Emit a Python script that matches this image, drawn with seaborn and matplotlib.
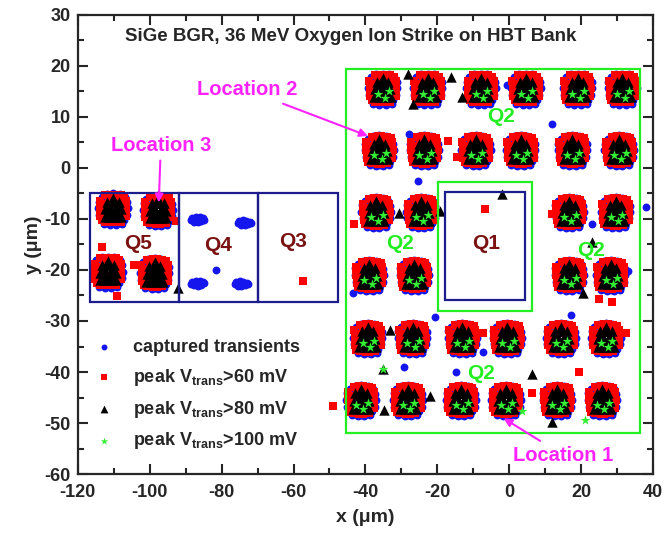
import numpy as np
import pandas as pd
import matplotlib
matplotlib.use("Agg")
import matplotlib.pyplot as plt
from matplotlib.patches import Rectangle
import seaborn as sns

sns.set_style("ticks")
plt.rcParams["font.family"] = ["Liberation Sans", "DejaVu Sans"]
plt.rcParams["font.weight"] = "bold"
plt.rcParams["axes.unicode_minus"] = False
plt.rcParams["mathtext.fontset"] = "custom"
plt.rcParams["mathtext.rm"] = "Liberation Sans:bold"
plt.rcParams["mathtext.bf"] = "Liberation Sans:bold"

# cluster centres (um)
hbt_x = [-35.2, -22.7, -7.9, 4.6, 19.0, 31.5,
         -36.1, -23.6, -9.3, 3.2, 17.6, 30.6,
         -37.0, -24.5, 16.7, 29.6,
         -38.9, -26.4, 16.7, 28.2,
         -39.4, -26.9, -13.0, -0.5, 14.4, 26.9,
         -41.2, -28.2, -13.4, -0.9, 13.4, 25.9]
hbt_y = [15.6] * 6 + [3.5] * 6 + [-8.6] * 4 + [-21.0] * 4 + [-33.3] * 6 + [-45.5] * 6
q5_x = [-110.2, -97.7, -111.6, -98.6]
q5_y = [-7.9, -8.2, -20.3, -20.6]
q4_x = [-86.6, -73.6, -86.6, -74.5]
q4_y = [-10.1, -10.7, -22.6, -22.7]

# point offsets inside one cluster, by series
blue_dx = [-4.1, -3.9, -3.2, -1.8, 0.0, 1.8, 3.2, 3.9, 4.1, 3.8, 3.0, 1.6, 0.0, -1.6, -3.0, -3.8,
           -2.6, 2.6, -0.9, 0.9]
blue_dy = [0.0, 1.3, 2.2, 2.8, 2.9, 2.8, 2.2, 1.2, 0.0, -1.3, -2.2, -2.8, -2.9, -2.8, -2.2, -1.3,
           -3.0, -3.0, -3.2, -3.2]
red_dx = [-3.7, -3.6, -3.5, -2.1, -2.0, -2.0, -2.1, -0.5, -0.5, 0.5, 0.5,
          2.1, 2.0, 2.0, 2.1, 3.6, 3.6, 3.7, -3.1, 3.1, 0.0, 0.0,
          -1.2, 1.2, -1.2, 1.2, -2.9, 2.9, -2.9, 2.9]
red_dy = [1.5, 0.0, -1.5, 2.6, 0.8, -0.8, -2.6, 2.7, -2.7, 2.7, -2.7,
          2.6, 0.8, -0.8, -2.6, 1.5, -1.5, 0.0, -2.3, 2.3, 1.0, -1.0,
          1.8, 1.8, -1.8, -1.8, 0.7, 0.7, -0.7, -0.7]
tri_dx = [-2.3, -1.1, 0.0, 1.1, 2.3, -2.1, -0.7, 0.7, 2.1, -1.6, -0.5, 0.5, 1.6, 0.0,
          -1.7, -0.6, 0.6, 1.7, -1.0, 1.0]
tri_dy = [-1.7, -1.7, -1.7, -1.7, -1.7, -0.2, -0.2, -0.2, -0.2, 1.3, 1.3, 1.3, 1.3, 2.1,
          -1.0, -1.0, -1.0, -1.0, 0.6, 0.6]
star_dx = [-1.4, 0.6, 1.8]
star_dy = [-1.0, -1.8, -0.6]
q4_dx = [-1.5, -0.5, 0.5, 1.5, -1.0, 0.0, 1.0, -1.8, 1.8]
q4_dy = [0.3, 0.5, 0.4, 0.2, -0.4, -0.5, -0.3, -0.1, 0.0]

# stray hits
blue_x = [-28.0, 11.9, -25.5, 38.0, 23.1, -0.5, -43.5, -20.6, -7.4, -29.2, -14.8, 17.3, 33.1, -81.5]
blue_y = [6.7, 8.6, -2.5, -7.6, -11.0, 16.3, -24.6, -29.3, -36.0, -39.0, -40.0, -28.8, -20.1, -20.0]
red_x = [-17.1, -14.6, -6.7, -43.1, 12.0, -7.2, 19.4, 6.3, 32.4, 25.0, 28.5,
         -113.4, -104.4, -109.0, -92.6, -57.4, -49.1]
red_y = [5.2, 2.1, -8.1, -11.0, -9.0, -32.3, -40.0, -44.1, -32.3, -25.7, -26.2,
         -15.4, -19.0, -25.1, -10.3, -22.2, -46.6]
tri_x = [-28.2, -16.2, -26.7, -13.0, -1.9, -30.6, -19.2, 23.1, -33.1, 6.3, 20.4,
         12.0, -22.0, -34.7, -92.1, -35.2]
tri_y = [18.4, 17.9, 12.5, 13.9, -5.1, -8.9, -8.4, -14.6, -31.8, -40.4, -24.6,
         -49.9, -44.8, -47.5, -23.6, -39.4]
star_x = [-35.2, 21.0, 3.5]
star_y = [-39.4, -49.5, -47.6]

labels = ["captured transients",
          r"peak V$_{\mathrm{trans}}$>60 mV",
          r"peak V$_{\mathrm{trans}}$>80 mV",
          r"peak V$_{\mathrm{trans}}$>100 mV"]


def spread(cx, cy, dx, dy, ex, ey):
    xs = [a + b for a in cx for b in dx] + ex
    ys = [a + b for a in cy for b in dy] + ey
    return pd.DataFrame({"x": xs, "y": ys})


blue = spread(hbt_x + q5_x, hbt_y + q5_y, blue_dx, blue_dy, blue_x, blue_y)
blue = pd.concat([blue, spread(q4_x, q4_y, q4_dx, q4_dy, [], [])])
red = spread(hbt_x + q5_x, hbt_y + q5_y, red_dx, red_dy, red_x, red_y)
tri = spread(hbt_x + q5_x, hbt_y + q5_y, tri_dx, tri_dy, tri_x, tri_y)
star = spread(hbt_x, hbt_y, star_dx, star_dy, star_x, star_y)

fig = plt.figure(figsize=(6.65, 5.35), dpi=100)
ax = fig.add_axes([0.117, 0.114, 0.865, 0.858])

sns.scatterplot(data=blue, x="x", y="y", ax=ax, color="#1515ee", marker="o", s=32, linewidth=0, label=labels[0])
sns.scatterplot(data=red, x="x", y="y", ax=ax, color="#ff0000", marker="s", s=34, linewidth=0, label=labels[1])
sns.scatterplot(data=tri, x="x", y="y", ax=ax, color="black", marker="^", s=56, linewidth=0, label=labels[2])
sns.scatterplot(data=star, x="x", y="y", ax=ax, color="#33ee33", marker="*", s=55, linewidth=0, label=labels[3])

green = "#22ee22"
navy = "#1c1c8c"
ax.add_patch(Rectangle((-45.3, -52.0), 81.7, 71.4, fill=False, ec=green, lw=1.6))
ax.add_patch(Rectangle((-19.7, -28.0), 26.1, 25.3, fill=False, ec=green, lw=1.6))
ax.add_patch(Rectangle((-17.8, -25.9), 22.2, 21.2, fill=False, ec=navy, lw=1.6))
for x0, x1 in [(-116.7, -91.9), (-91.9, -70.0), (-70.0, -47.5)]:
    ax.add_patch(Rectangle((x0, -26.3), x1 - x0, 21.4, fill=False, ec=navy, lw=1.6))

dred = "#7a1212"
for t, x, y in [("Q5", -103.2, -14.8), ("Q4", -81.0, -15.1), ("Q3", -60.0, -14.4), ("Q1", -6.3, -14.8)]:
    ax.text(x, y, t, color=dred, fontsize=15, ha="center", va="center")
for x, y in [(-2.3, 10.1), (-30.4, -14.8), (22.9, -16.1), (-7.7, -40.3)]:
    ax.text(x, y, "Q2", color="#22ee22", fontsize=15, ha="center", va="center")

mag = "#ff22ff"
arrow = dict(arrowstyle="-|>", color=mag, lw=1.5, mutation_scale=12)
ax.annotate("Location 2", xy=(-38.6, 6.1), xytext=(-73.0, 15.3), color=mag, fontsize=14.5,
            ha="center", va="center", arrowprops=arrow)
ax.annotate("Location 3", xy=(-97.5, -7.3), xytext=(-96.9, 4.5), color=mag, fontsize=14.5,
            ha="center", va="center", arrowprops=arrow)
ax.annotate("Location 1", xy=(-2.2, -48.8), xytext=(15.0, -56.3), color=mag, fontsize=14.5,
            ha="center", va="center", arrowprops=arrow)

ax.text(-44.2, 25.7, "SiGe BGR, 36 MeV Oxygen Ion Strike on HBT Bank", fontsize=13.5,
        ha="center", va="center")

ax.set_xlim(-120, 40)
ax.set_ylim(-60, 30)
ax.set_xticks(np.arange(-120, 41, 20))
ax.set_xticks(np.arange(-110, 40, 20), minor=True)
ax.set_yticks(np.arange(-60, 31, 10))
ax.set_yticks(np.arange(-55, 30, 10), minor=True)
ax.tick_params(which="both", direction="in", top=True, right=True, width=1.5, labelsize=13)
ax.tick_params(which="major", length=7)
ax.tick_params(which="minor", length=4)
ax.tick_params(axis="x", pad=7)
ax.tick_params(axis="y", pad=5)
for sp in ax.spines.values():
    sp.set_linewidth(1.6)
ax.set_xlabel("x (\u03bcm)", fontsize=14, fontweight="bold", labelpad=6)
ax.set_ylabel("y (\u03bcm)", fontsize=14, fontweight="bold", labelpad=2)

ax.legend(loc="upper left", bbox_to_anchor=(0.02, 0.31), frameon=False, fontsize=13,
          handlelength=0.8, handletextpad=1.2, labelspacing=0.6, borderaxespad=0, markerscale=0.75)

fig.savefig("out.png", dpi=100)
